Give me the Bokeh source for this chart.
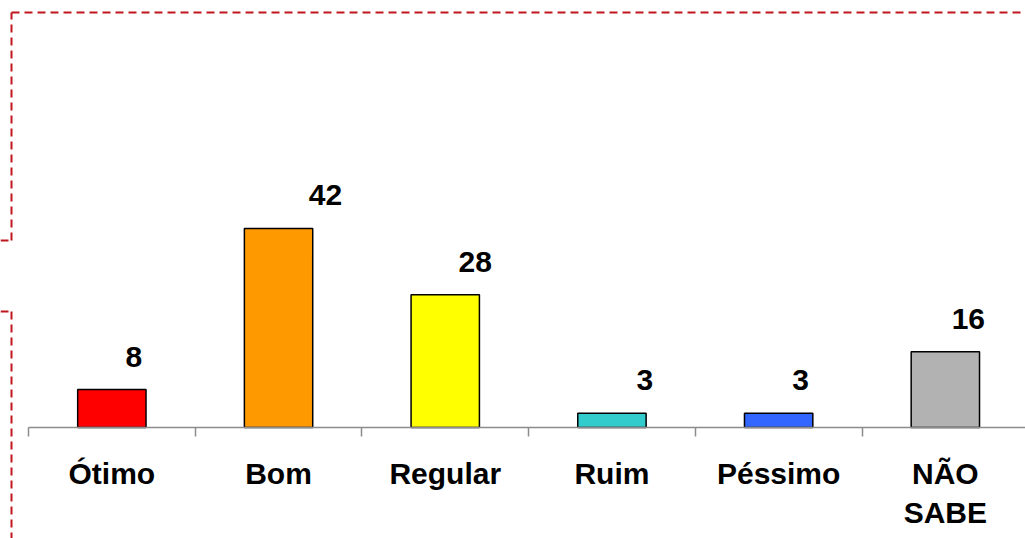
from bokeh.plotting import figure
from bokeh.models import FixedTicker, Arrow, ColumnDataSource, Range1d
from bokeh.core.properties import value
from bokeh.embed import file_html
from bokeh.resources import INLINE

categories = ["Ótimo", "Bom", "Regular", "Ruim", "Péssimo", "NÃO\nSABE"]
values = [8, 42, 28, 3, 3, 16]
colors = ["#FF0000", "#FF9900", "#FFFF00", "#33CCCC", "#3366FF", "#B2B2B2"]
label_dx = [22, 47, 30, 33, 22, 23]

xs = [i + 0.5 for i in range(len(categories))]
src = ColumnDataSource(dict(x=xs, top=values, color=colors, lab=[str(v) for v in values], dx=label_dx))

W, H = 1025, 538
X0, Y0 = 28, 427          # pixel position of the axis origin
PX_X, PX_Y = 166.7, 4.74  # pixels per category / per unit
p = figure(width=W, height=H, output_backend="svg", toolbar_location=None,
           x_range=Range1d(-X0 / PX_X, (W - X0) / PX_X),
           y_range=Range1d(-(H - Y0) / PX_Y, Y0 / PX_Y),
           min_border=0, y_axis_location=None)
p.outline_line_color = None
p.xgrid.visible = False
p.ygrid.visible = False

p.vbar(x="x", top="top", bottom=0, width=0.41, fill_color="color", line_color="black",
       line_width=1.5, source=src)
p.text(x="x", y="top", text="lab", x_offset="dx", y_offset=-33, source=src,
       text_align="center", text_baseline="middle", text_font=value("Liberation Sans"),
       text_font_style="bold", text_font_size="30px", text_color="black")

ax = p.xaxis[0]
ax.fixed_location = 0
ax.bounds = (0, len(categories))
ax.ticker = FixedTicker(ticks=xs, minor_ticks=list(range(len(categories) + 1)))
ax.major_label_overrides = {x: c for x, c in zip(xs, categories)}
ax.major_tick_line_color = None
ax.major_tick_out = 0
ax.major_tick_in = 0
ax.minor_tick_in = 0
ax.minor_tick_out = 9
ax.minor_tick_line_color = "#8C8C8C"
ax.minor_tick_line_width = 1.5
ax.axis_line_color = "#8C8C8C"
ax.axis_line_width = 1.5
ax.major_label_standoff = 20
ax.major_label_text_font = "Liberation Sans"
ax.major_label_text_font_style = "bold"
ax.major_label_text_font_size = "30px"
ax.major_label_text_color = "black"

red = "#C0161E"
segs = [(0, 240, 11, 240), (11, 240, 11, 12), (11, 12, 1025, 12),
        (0, 311, 11, 311), (11, 311, 11, 538)]
for x0, y0, x1, y1 in segs:
    p.add_layout(Arrow(end=None, x_start=x0, y_start=y0, x_end=x1, y_end=y1,
                       start_units="canvas", end_units="canvas",
                       line_color=red, line_width=2, line_dash="8 5"))

open("out.html", "w").write(file_html(p, INLINE))
